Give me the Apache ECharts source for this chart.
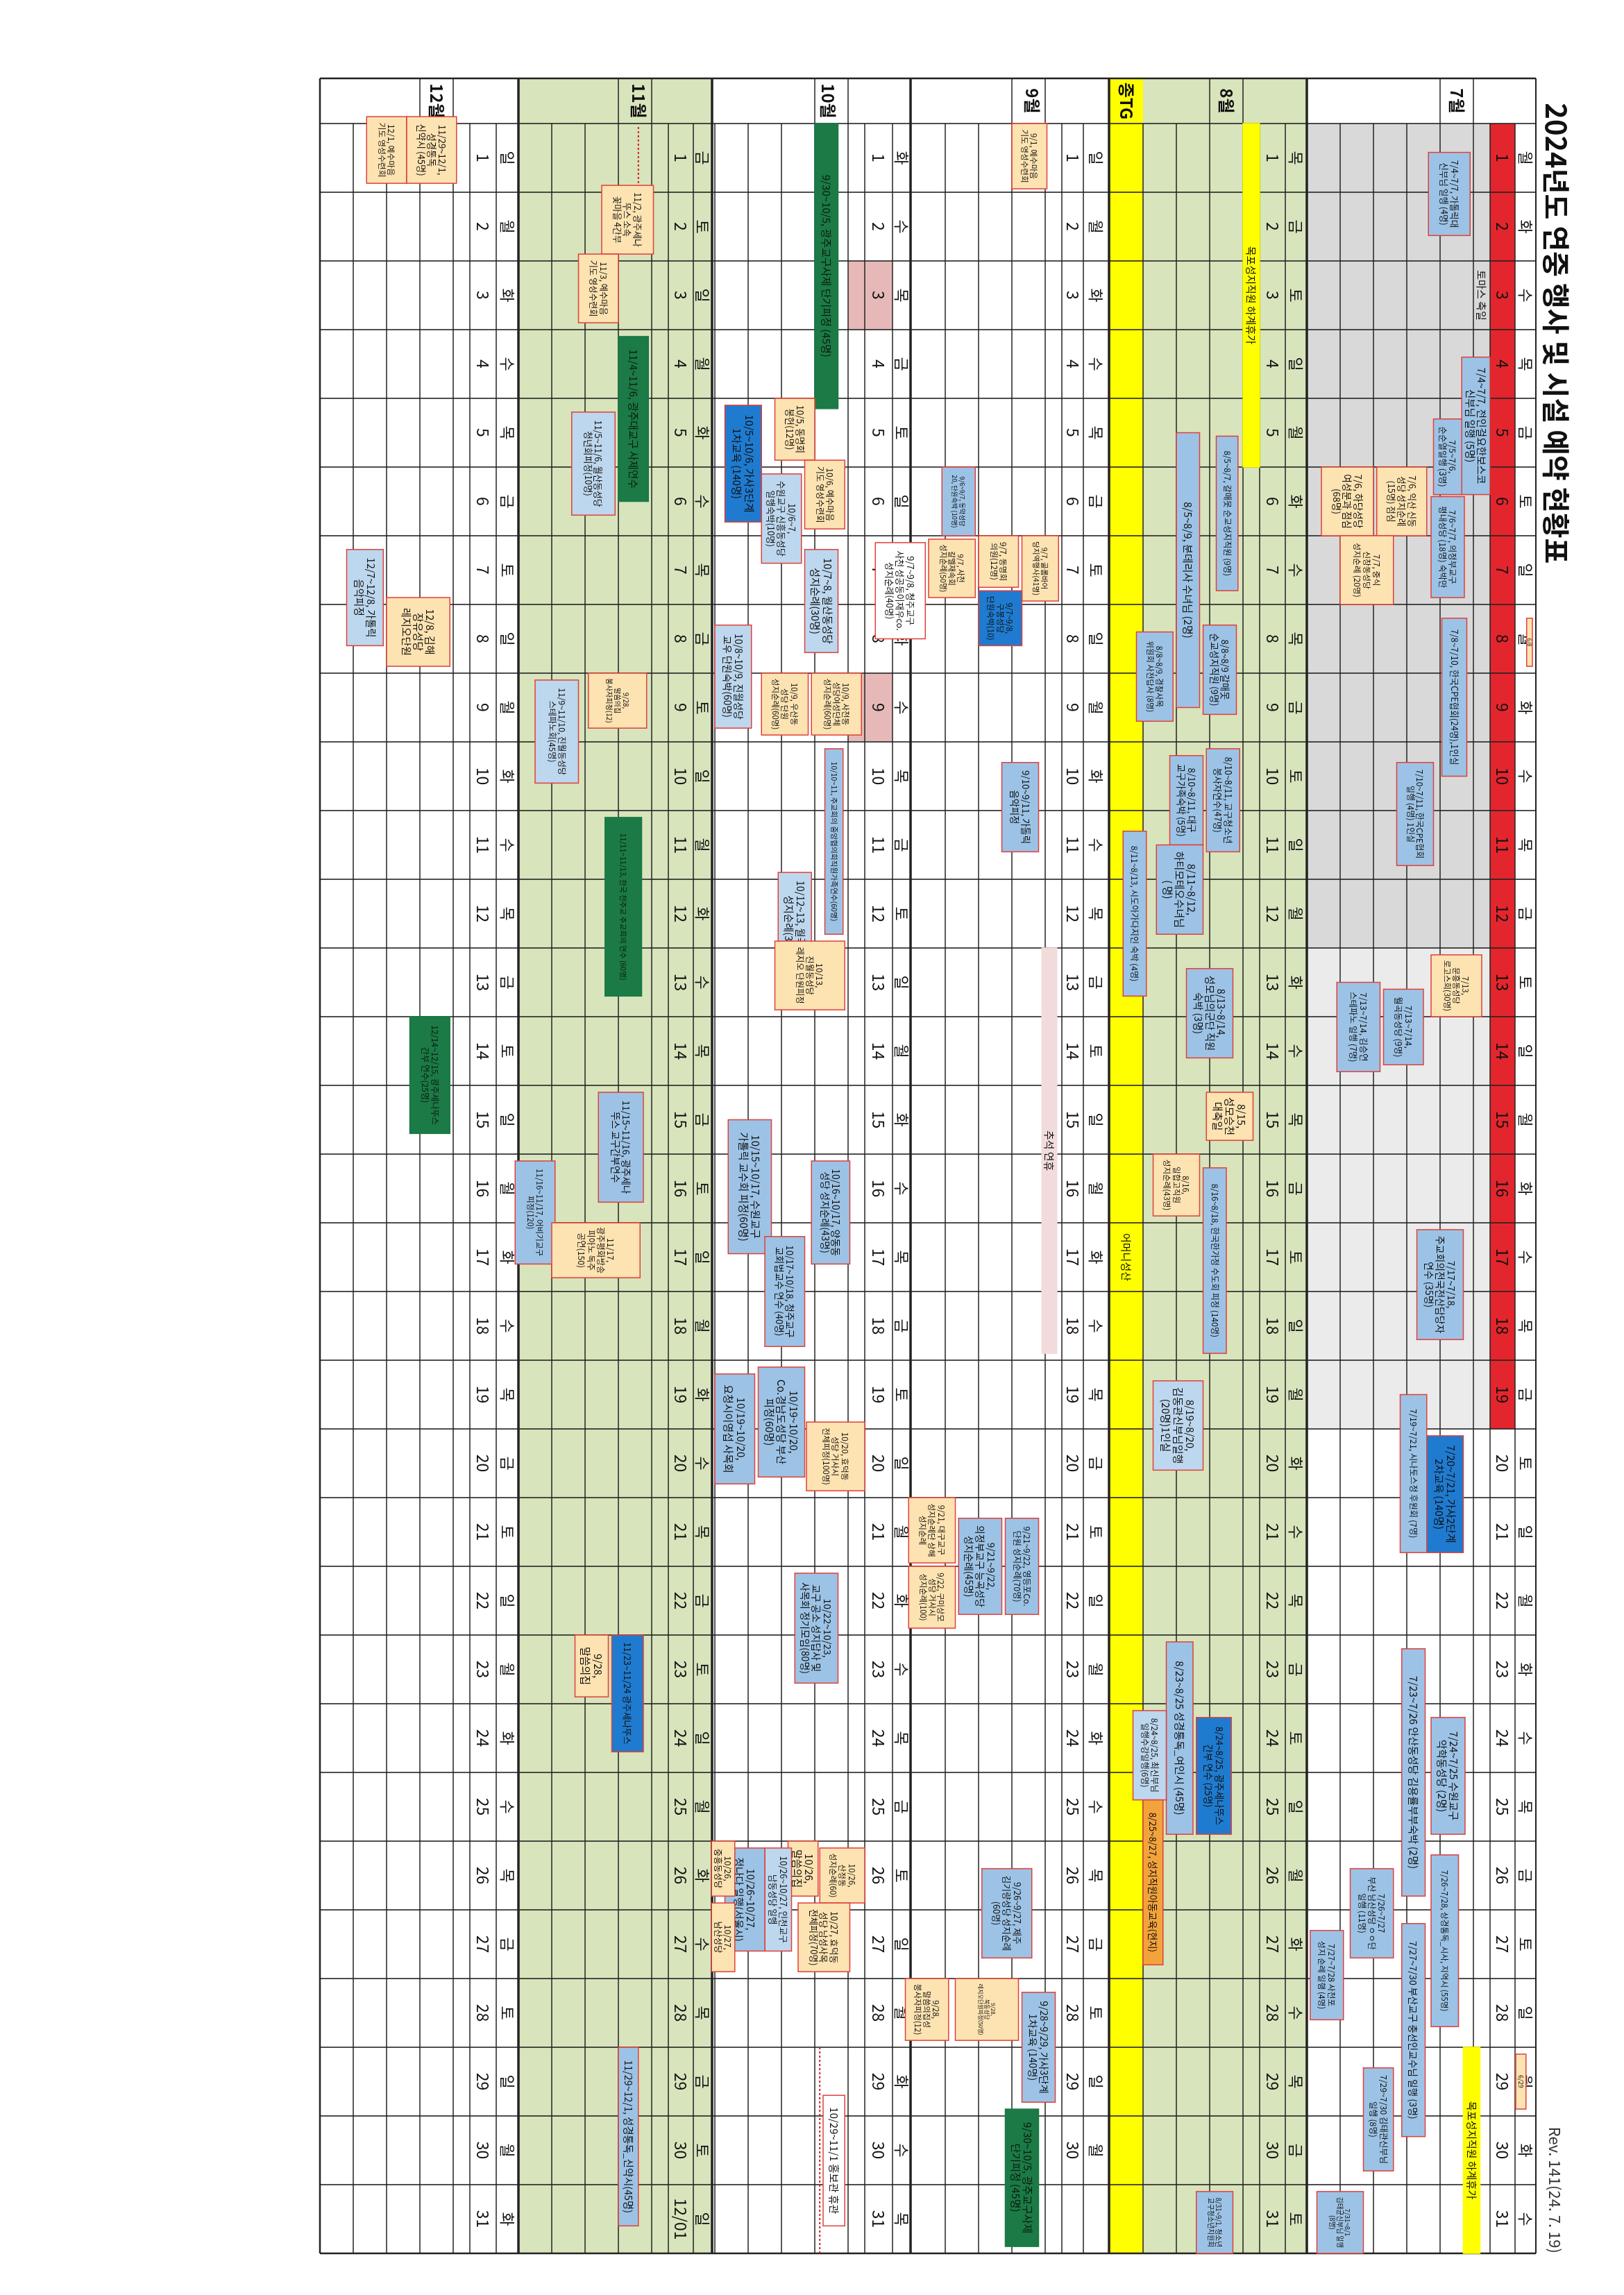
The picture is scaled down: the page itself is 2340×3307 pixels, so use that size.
<!DOCTYPE html>
<html>
<head>
<meta charset="utf-8">
<script src="https://cdn.jsdelivr.net/npm/echarts@6/dist/echarts.min.js"></script>
<style>
  html, body { margin: 0; padding: 0; background: #fff; overflow: hidden; }
  #page { position: absolute; left: 0; top: 0; width: 3307px; height: 2340px;
          transform-origin: 0 0; transform: translate(2340px, 0) rotate(90deg); }
</style>
</head>
<body>
<div id="page"></div>
<script>
// ---------- data ----------
const title = '2024년도 연중 행사 및 시설 예약 현황표';
const revision = 'Rev. 141(24. 7. 19)';
const monthNames = ['7월', '8월', '9월', '10월', '11월', '12월'];
const monthFirst = ['2024-07-01', '2024-08-01', '2024-09-01', '2024-10-01', '2024-11-01', '2024-12-01'];
const monthDays = [31, 31, 30, 31, 31, 31];        // Nov row 31 shows 12/01
const weekdayNames = ['일', '월', '화', '수', '목', '금', '토'];
const redDaysJuly = 19;                           // red date cells 7/1~7/19
const octHolidays = [3, 9];
const tgLabel = '종TG';

// [startDay, endDay, laneFrom, laneTo, kind, text]
const julyEvents = [
  [0.92, 2.13, 0.6, 1.85, 'b', '7/4~7/7, 가톨릭대\n신부님 일행 (4명)'],
  [3.9, 5.9, 0.0, 0.85, 'b', '7/4~7/7, 전인걸요한보스코\n신부님 일행 (5명)'],
  [4.8, 5.9, 0.85, 1.7, 'b', '7/5~7/6,\n순순열일행 (3명)'],
  [5.93, 7.4, 0.77, 1.77, 'b', '7/6~7/7, 의정부교구\n평내성당 (18명) 숙박만'],
  [5.5, 6.5, 1.9, 3.4, 'o', '7/6, 익산 신동\n성당 성지순례\n(15명) 점심'],
  [5.5, 6.5, 3.5, 5.06, 'o', '7/6, 하당성당\n여성분과 점심\n(68명)'],
  [6.5, 7.5, 2.9, 4.5, 'o', '7/7, 중식\n신창동성당\n성지순례 (20명)'],
  [7.7, 10.0, 0.7, 1.45, 'b', '7/8~7/10, 한국CPE협회(24명),1인실'],
  [9.8, 11.3, 1.7, 2.8, 'b', '7/10~7/11, 한국CPE협회\n일행 (4명) 1인실'],
  [12.6, 13.5, 0.25, 1.77, 'o', '7/13,\n문흥동성당\n로고스회(30명)'],
  [13.1, 14.2, 2.0, 3.2, 'b', '7/13~7/14,\n월곡동성당 (9명)'],
  [13.0, 14.3, 3.3, 4.6, 'b', '7/13~7/14, 김승연\n스테파노 일행 (7명)'],
  [16.6, 18.2, 0.8, 2.2, 'b', '7/17~7/18,\n주교회의전국전산담당자\n연수 (35명)'],
  [19.0, 21.3, 1.9, 2.7, 'b', '7/19~7/21, 시나토스정 후원회 (7명)'],
  [19.6, 21.3, 0.8, 1.9, 'd', '7/20~7/21, 가사2단계\n2차교육 (140명)'],
  [22.7, 26.3, 1.95, 2.65, 'b', '7/23~7/26 안산동성당 김용률부부숙박 (2명)'],
  [23.7, 25.4, 0.75, 1.77, 'b', '7/24~7/25 수원교구\n악학동성당 (2명)'],
  [25.7, 28.2, 0.95, 1.77, 'b', '7/26~7/28, 상경통독_시사, 지역시 (55명)'],
  [25.9, 27.2, 2.9, 4.2, 'b', '7/26~7/27\n부산 남산성당 ㅇㅇ단\n일행 (11명)'],
  [26.7, 29.8, 1.95, 2.65, 'b', '7/27~7/30 부산교구 충선인교수님 일행 (3명)'],
  [26.8, 28.1, 4.4, 5.4, 'b', '7/27~7/28 사천포\n성지 순례 일행 (4명)'],
  [28.8, 30.3, 2.9, 3.8, 'b', '7/29~7/30 김태관신부님\n일행 (8명)'],
  [30.6, 31.5, 3.8, 5.2, 'b', '7/31~8/1\n김태균신부님 일행\n(8명)'],
  [28.5, 31.5, 0.3, 0.8, 'y', '목포성지직원 하계휴가'],
  [2.5, 3.5, 0.0, 0.5, 't', '토마스 축일'],
  [28.6, 29.4, -1.08, -0.77, 'o', '6/29'],
  [7.7, 8.4, -1.27, -1.1, 'o', '6/8']
];
const augEvents = [
  [0.5, 5.5, 0.0, 0.5, 'y', '목포성지직원 하계휴가'],
  [5.05, 7.3, 0.65, 1.3, 'b', '8/5~8/7, 갈매못 순교성지직원 (9명)'],
  [5.0, 9.0, 1.8, 2.5, 'b', '8/5~8/9, 분데리사 수녀님 (2명)'],
  [7.8, 9.1, 0.7, 1.7, 'b', '8/8~8/9 갈매못\n순교성지직원 (9명)'],
  [7.9, 9.2, 2.6, 3.7, 'b', '8/8~8/9, 경찰사목\n위원회 사전답사 (8명)'],
  [9.6, 11.1, 0.6, 1.6, 'b', '8/10~8/11, 교구청소년\n봉사자연수(47명)'],
  [9.7, 11.0, 1.7, 2.7, 'b', '8/10~8/11, 대구\n교구가족숙박 (5명)'],
  [11.0, 12.3, 1.7, 3.1, 'b', '8/11~8/12,\n하티모테오수녀님\n( 명)'],
  [10.8, 13.2, 3.4, 4.1, 'b', '8/11~8/13, 시도아가다지인 숙박 (4명)'],
  [12.8, 14.1, 0.8, 2.2, 'b', '8/13~8/14,\n성모님의군단 직원\n숙박 (3명)'],
  [14.6, 15.3, 0.2, 1.6, 'o', '8/15,\n성모승천\n대축일'],
  [15.5, 16.4, 1.8, 3.2, 'o', '8/16,\n일합고직원\n성지순례(43명)'],
  [15.7, 18.4, 1.0, 1.7, 'b', '8/16~8/18, 한국한가정 수도회 피정 (140명)'],
  [16.4, 17.6, 3.6, 4.4, 't', '어머니성산'],
  [18.8, 20.1, 1.7, 3.2, 'l', '8/19~8/20,\n김동관신부님일행\n(20명)1인실'],
  [22.6, 25.4, 2.0, 2.8, 'b', '8/23~8/25 성경통독_여인시 (45명)'],
  [23.7, 25.4, 0.85, 1.9, 'd', '8/24~8/25, 광주세나뚜스\n간부 연수 (25명)'],
  [23.6, 24.9, 2.8, 3.8, 'l', '8/24~8/25, 최신부님\n일행수강일행(6명)'],
  [24.9, 27.3, 2.9, 3.5, 'a', '8/25~8/27, 성지직원아동교육(현지)'],
  [30.6, 31.5, 0.8, 1.9, 'b', '8/31~9/1, 청소년\n교구청소년지원회']
];
const sepEvents = [
  [0.5, 1.45, 0.45, 1.5, 'o', '9/1, 예수마음\n기도 영성수련회'],
  [5.5, 6.5, 2.6, 3.6, 'b', '9/6~9/7, 동악성당\n20, 단원숙박 (10명)'],
  [6.5, 7.45, 0.1, 1.2, 'o', '9/7, 골롬바어\n당지역행사(41명)'],
  [6.5, 7.25, 1.3, 2.5, 'o', '9/7, 동명회\n의원(12명)'],
  [6.55, 7.4, 2.6, 4.0, 'o', '9/7, 사천\n갈멜재속회\n성지순례(50명)'],
  [6.6, 8.0, 4.1, 5.6, 'w', '9/7~9/8, 청주교구\n사천 성공동이재우co.\n성지순례(40명)'],
  [7.3, 8.1, 1.2, 2.5, 'd', '9/7~9/8,\n구봉성당\n단원숙박(10)'],
  [9.8, 11.1, 0.7, 1.8, 'b', '9/10~9/11, 가톨릭\n음악피정'],
  [12.5, 18.4, 0.15, 0.6, 'p', '추석 연휴'],
  [20.5, 21.45, 3.2, 4.6, 'o', '9/21, 대구교구\n성지순례단 상해\n성지순례'],
  [21.5, 22.4, 3.2, 4.6, 'o', '9/22, 구미상모\n성당 거사시\n성지순례(100)'],
  [20.8, 22.2, 1.8, 3.1, 'b', '9/21~9/22,\n의정부교구 능곡성당\n성지순례(45명)'],
  [20.8, 22.2, 0.7, 1.7, 'b', '9/21~9/22, 영등포Co.\n단원 성지순례(70명)'],
  [25.9, 27.2, 0.9, 2.4, 'b', '9/26~9/27, 제주\n김기량성당 성지순례\n(60명)'],
  [27.5, 28.4, 1.3, 3.2, 'o', '9/28,\n북동성당\n레지오단원피정(50명)'],
  [27.5, 28.4, 3.4, 4.7, 'o', '9/28,\n말씀의집성\n봉사자피정(12)'],
  [27.7, 29.3, 0.2, 1.2, 'b', '9/28~9/29, 가사3단계\n1차교육 (140명)'],
  [29.4, 31.4, 0.7, 1.7, 'g', '9/30~10/5, 광주교구사제\n단기피정 (45명)']
];
const octEvents = [
  [0.5, 4.65, 0.8, 1.5, 'g', '9/30~10/5, 광주교구사제 단기피정 (45명)'],
  [4.5, 5.4, 1.5, 2.7, 'o', '10/5, 동명회\n봉헌(12명)'],
  [4.6, 6.3, 3.1, 4.2, 'd', '10/5~10/6, 가사3단계\n1차교육 (140명)'],
  [5.4, 6.4, 0.6, 1.8, 'o', '10/6, 예수마음\n기도 영성수련회'],
  [5.6, 6.9, 1.9, 3.1, 'l', '10/6~7,\n수원교구 신흥동성당\n일행숙박(10명)'],
  [6.7, 8.2, 0.8, 1.8, 'l', '10/7~8, 월산동성당\n성지순례(30명)'],
  [7.8, 9.3, 3.4, 4.5, 'l', '10/8~10/9, 진월성당\n교우 단원숙박(60명)'],
  [8.5, 9.4, 0.1, 1.6, 'o', '10/9, 사천동\n성당여성단체\n성지순례(60명)'],
  [8.5, 9.4, 1.7, 3.1, 'o', '10/9, 우산동\n성당 단원\n성지순례(60명)'],
  [9.6, 12.3, 0.65, 1.2, 'b', '10/10~11, 주교회의 중앙협의회직원가족연수(60명)'],
  [11.4, 13.0, 1.6, 2.6, 'l', '10/12~13, 월곡동성당\n성지순례(30명)'],
  [12.4, 13.4, 0.6, 2.7, 'o', '10/13,\n진월동성당\n레지오 단원피정'],
  [15.0, 16.95, 2.8, 4.1, 'b', '10/15~10/17, 수원교구\n가톨릭 교수회 피정(60명)'],
  [15.6, 17.1, 0.45, 1.6, 'b', '10/16~10/17, 양동동\n성당 성지순례(43명)'],
  [16.7, 18.3, 1.8, 3.0, 'b', '10/17~10/18, 청주교구\n교회법교수 연수 (40명)'],
  [18.7, 20.3, 3.3, 4.5, 'b', '10/19~10/20,\n요청시이영섭 사목회'],
  [18.6, 20.2, 1.8, 3.2, 'b', '10/19~10/20,\nCo.경남도성당 부산\n피정(60명)'],
  [19.4, 20.4, 0.0, 1.75, 'o', '10/20, 효덕동\n성당 거사시\n전체피정(100명)'],
  [21.6, 23.2, 0.8, 2.1, 'b', '10/22~10/23,\n교구 공소 성지답사 및\n사목회 정기모임(80명)'],
  [25.6, 26.4, 0.0, 1.35, 'o', '10/26,\n산정동\n성지순례(60)'],
  [25.5, 26.3, 1.4, 2.3, 'o', '10/26,\n말씀의집'],
  [26.4, 27.4, 0.45, 2.0, 'o', '10/27, 효덕동\n성당 남성사목\n전체피정(70명)'],
  [25.6, 27.1, 2.2, 3.0, 'l', '10/26~10/27, 인천교구\n남동성당 일행'],
  [25.6, 27.1, 3.0, 4.2, 'b', '10/26~10/27,\n정나다 일행(서울시)'],
  [25.5, 26.3, 3.9, 4.6, 'o', '10/26,\n중흥동성당'],
  [26.4, 27.4, 3.9, 4.6, 'o', '10/27,\n남산성당'],
  [29.2, 31.1, 0.6, 1.25, 'w', '10/29~11/1 홍보관 휴관']
];
const novEvents = [
  [1.4, 2.4, 0.45, 2.0, 'o', '11/2, 광주세나\n뚜스 소속\n꽃마을 4간부'],
  [2.4, 3.4, 1.5, 2.7, 'o', '11/3, 예수마음\n기도 영성수련회'],
  [3.6, 6.0, 0.6, 1.5, 'g', '11/4~11/6, 광주대교구 사제연수'],
  [4.7, 6.2, 1.6, 2.9, 'l', '11/5~11/6, 월산동성당\n청년회피정(10명)'],
  [8.5, 9.3, 0.65, 2.4, 'o', '9/28,\n말씀의집\n봉사자피정(12)'],
  [8.6, 10.1, 2.7, 4.0, 'l', '11/9~11/10, 진월동성당\n스테파노회(45명)'],
  [10.6, 13.2, 0.8, 1.9, 'g', '11/11~11/13, 한국 천주교 주교회의 연수 (60명)'],
  [14.6, 16.2, 0.75, 2.1, 'b', '11/15~11/16, 광주세나\n뚜스 교구간부연수'],
  [15.6, 17.1, 3.4, 4.6, 'b', '11/16~11/17, 어비기교구\n피정(120)'],
  [16.5, 17.3, 0.85, 3.5, 'o', '11/17,\n광주평화방송\n피아노 독주\n공연(150)'],
  [22.5, 23.4, 1.8, 2.8, 'o', '9/28,\n말씀의집'],
  [22.5, 24.2, 0.75, 1.7, 'd', '11/23~11/24 광주세나뚜스'],
  [28.5, 31.1, 0.9, 1.5, 'b', '11/29~12/1, 성경통독_신약시(45명)']
];
const decEvents = [
  [0.4, 1.37, 0.4, 1.9, 'o', '11/29~12/1,\n성경통독\n신약시 (45명)'],
  [0.4, 1.37, 1.9, 3.1, 'o', '12/1, 예수마음\n기도 영성수련회'],
  [6.7, 8.1, 2.6, 3.7, 'l', '12/7~12/8, 가톨릭\n음악피정'],
  [7.4, 8.4, 0.6, 2.5, 'o', '12/8, 김해\n장유성당\n레지오단원'],
  [13.5, 15.2, 0.6, 1.8, 'g', '12/14~12/15, 광주세나뚜스\n간부 연수(25명)']
];
// dotted arrows: [month, fromDay, toDay, lane]
const arrows = [[3, 28.5, 31.5, 1.35], [4, 0.55, 1.45, 0.9]];

// ---------- layout (pixels of the unrotated page, v = distance from top) ----------
const blocks = [
  { top: 127, wd: 157, dt: 193, lanes: 5, label: 1.0, bottom: 457 },
  { top: 457, wd: 488, dt: 525, lanes: 4, label: 1.0, bottom: 742 },
  { top: 742, wd: 779, dt: 810, lanes: 4, label: 0.9, bottom: 1028 },
  { top: 1028, wd: 1054, dt: 1094, lanes: 4, label: 1.1, bottom: 1314 },
  { top: 1314, wd: 1341, dt: 1377, lanes: 4, label: 0.9, bottom: 1593 },
  { top: 1593, wd: 1625, dt: 1663, lanes: 4, label: 1.0, bottom: 1879 }
];
const LANE = 48;
const labelLeft = -0.157;
const colors = {
  b: ['#9cc3e6', '#e0403a', '#111'], l: ['#bdd7ee', '#e0403a', '#111'],
  d: ['#1f7bd0', '#e0403a', '#111'], g: ['#1b7a45', '#1b7a45', '#0b1a10'],
  o: ['#fde3b1', '#e0403a', '#111'], a: ['#f3a33c', '#e0403a', '#111'],
  w: ['#ffffff', '#e0403a', '#111'], y: ['#ffff00', '#ffff00', '#111'],
  p: ['#f2dcdb', '#f2dcdb', '#111'], t: ['rgba(0,0,0,0)', 'rgba(0,0,0,0)', '#111']
};
const FONT = '"Noto Sans CJK KR", "Noto Sans", sans-serif';

const allEvents = [];
[julyEvents, augEvents, sepEvents, octEvents, novEvents, decEvents].forEach((list, m) =>
  list.forEach(e => allEvents.push([m].concat(e))));

function weekday(m, d) {
  const dt = new Date(monthFirst[m] + 'T00:00:00');
  dt.setDate(dt.getDate() + d - 1);
  return { name: weekdayNames[dt.getDay()], month: dt.getMonth(), date: dt.getDate() };
}
function laneV(m, t) { return blocks[m].dt + t * LANE; }

function textWidth(s) {
  let w = 0;
  for (const ch of s) w += /[\u1100-\uffff]/.test(ch) ? 1 : 0.56;
  return w;
}

const chart = echarts.init(document.getElementById('page'), null, { width: 3307, height: 2340 });

function rect(api, x0, x1, v0, v1, style) {
  const a = api.coord([x0, v0]), b = api.coord([x1, v1]);
  return { type: 'rect', shape: { x: Math.min(a[0], b[0]), y: Math.min(a[1], b[1]),
    width: Math.abs(b[0] - a[0]), height: Math.abs(b[1] - a[1]) }, style: style };
}
function line(api, x0, v0, x1, v1, w, dash, color) {
  const a = api.coord([x0, v0]), b = api.coord([x1, v1]);
  return { type: 'line', shape: { x1: a[0], y1: a[1], x2: b[0], y2: b[1] },
    style: { stroke: color || '#222', lineWidth: w, lineDash: dash || null } };
}
function label(api, x, v, text, size, weight, color) {
  const p = api.coord([x, v]);
  return { type: 'text', x: p[0], y: p[1], style: { text: text, fill: color || '#111',
    font: (weight || 'normal') + ' ' + size + 'px ' + FONT, align: 'center', verticalAlign: 'middle' } };
}

function renderTable(params, api) {
  const ch = [];
  const T = blocks[0].top, B = blocks[5].bottom;
  const end = 31.5;
  // backgrounds
  blocks.forEach((bk, m) => {
    if (m === 1 || m === 4) ch.push(rect(api, labelLeft, end, bk.top, bk.bottom, { fill: '#d8e4bc' }));
  });
  const jb = blocks[0];
  ch.push(rect(api, 0.5, 12.5, jb.dt, jb.bottom, { fill: '#d9d9d9' }));
  ch.push(rect(api, 12.5, 19.5, jb.dt, jb.bottom, { fill: '#ebebeb' }));
  ch.push(rect(api, 0.5, redDaysJuly + 0.5, jb.wd, jb.dt, { fill: '#e3262d' }));
  const ab = blocks[1];
  ch.push(rect(api, labelLeft, end, laneV(1, 3.5), ab.bottom, { fill: '#ffff00' }));
  octHolidays.forEach(d => ch.push(rect(api, d - 0.5, d + 0.5, blocks[3].wd, laneV(3, 0.5), { fill: '#e6b9b8' })));

  // day lines
  for (let k = 0; k <= 31; k++) ch.push(line(api, k + 0.5, T, k + 0.5, B, 1.6));
  // row lines inside each block
  blocks.forEach((bk, m) => {
    ch.push(line(api, 0.5, bk.wd, end, bk.wd, 1.4));
    ch.push(line(api, 0.5, bk.dt, end, bk.dt, 1.4));
    for (let i = 0; i <= bk.lanes; i++) {
      const v = laneV(m, 0.5 + i);
      if (v < bk.bottom - 3) ch.push(line(api, i < 2 ? labelLeft : 0.5, v, end, v, 1.4));
    }
    ch.push(line(api, labelLeft, bk.top, end, bk.top, m === 0 ? 2 : 3.5));
  });
  ch.push(line(api, labelLeft, B, end, B, 2.5));
  ch.push(line(api, labelLeft, T, labelLeft, B, 2.5));
  ch.push(line(api, end, T, end, B, 2.5));

  // weekday + date texts
  blocks.forEach((bk, m) => {
    for (let d = 1; d <= 31; d++) {
      if (d > monthDays[m]) continue;
      const w = weekday(m, d);
      ch.push(label(api, d, (bk.top + bk.wd) / 2, w.name, 22, 'normal'));
      const num = (w.month !== new Date(monthFirst[m] + 'T00:00:00').getMonth())
        ? String(w.month + 1).padStart(2, '0') + '/' + String(w.date).padStart(2, '0') : String(d);
      ch.push(label(api, d, (bk.wd + bk.dt) / 2, num, 23, 'normal'));
    }
    ch.push(label(api, (labelLeft + 0.5) / 2, laneV(m, bk.label), monthNames[m], 24, 'bold'));
  });
  ch.push(label(api, (labelLeft + 0.5) / 2, laneV(1, 4.0), tgLabel, 24, 'bold'));

  // title + revision
  const tp = api.coord([0.2, 98]);
  ch.push({ type: 'text', x: tp[0], y: tp[1], style: { text: title, font: 'bold 40px ' + FONT,
    fill: '#111', align: 'left', verticalAlign: 'middle' } });
  const rp = api.coord([31.5, 100]);
  ch.push({ type: 'text', x: rp[0], y: rp[1], style: { text: revision, font: '22px ' + FONT,
    fill: '#333', align: 'right', verticalAlign: 'middle' } });

  // arrows
  arrows.forEach(a => {
    const v = laneV(a[0], a[3]);
    ch.push(line(api, a[1], v, a[2], v, 2, [3, 3], '#d02020'));
  });
  return { type: 'group', children: ch };
}

function renderEvent(params, api) {
  const e = allEvents[params.dataIndex];
  const m = e[0];
  const c = colors[e[5]];
  const r = rect(api, e[1], e[2], laneV(m, e[3]), laneV(m, e[4]),
    { fill: c[0], stroke: c[1], lineWidth: 1.5 });
  const lines = e[6].split('\n');
  const w = r.shape.width, h = r.shape.height;
  const maxW = Math.max.apply(null, lines.map(textWidth));
  let fs = Math.min(15, (h - 4) / lines.length / 1.18, (w - 6) / maxW);
  fs = Math.max(fs, 8);
  const txt = { type: 'text', x: r.shape.x + w / 2, y: r.shape.y + h / 2,
    style: { text: e[6], fill: c[2], font: fs.toFixed(1) + 'px ' + FONT, align: 'center',
      verticalAlign: 'middle', lineHeight: fs * 1.15 } };
  return { type: 'group', children: [r, txt] };
}

chart.setOption({
  animation: false,
  backgroundColor: '#ffffff',
  grid: { left: 0, top: 0, width: 3307, height: 2340 },
  xAxis: { type: 'value', min: -1.298, max: 32.106, show: false },
  yAxis: { type: 'value', min: 0, max: 2340, inverse: true, show: false },
  series: [
    { type: 'custom', renderItem: renderTable, data: [[0, 0]], clip: false, z: 1 },
    { type: 'custom', renderItem: renderEvent, clip: false, z: 2,
      data: allEvents.map(e => [e[1], laneV(e[0], e[3])]) }
  ]
});
</script>
</body>
</html>
